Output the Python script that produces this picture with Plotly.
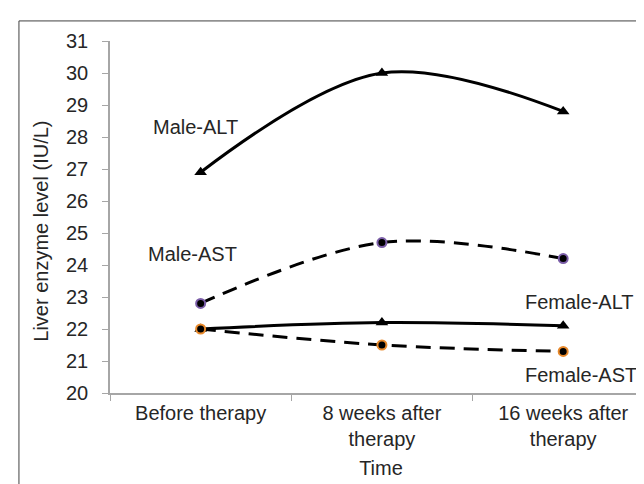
import plotly.graph_objects as go

categories = ["Before therapy", "8 weeks after<br>therapy", "16 weeks after<br>therapy"]
male_alt = [26.9, 30.0, 28.8]
male_ast = [22.8, 24.7, 24.2]
female_alt = [22.0, 22.2, 22.1]
female_ast = [22.0, 21.5, 21.3]
y_ticks = list(range(20, 32))

FONT = "Liberation Sans, Arial, sans-serif"
TXT = "#262626"
AX = "#a6a6a6"
FS = 20

fig = go.Figure()

fig.add_trace(go.Scatter(x=categories, y=male_alt, mode="lines+markers", name="Male-ALT",
                         line=dict(color="black", width=3, shape="spline", smoothing=1),
                         marker=dict(symbol="triangle-up", size=11, color="black")))
fig.add_trace(go.Scatter(x=categories, y=male_ast, mode="lines+markers", name="Male-AST",
                         line=dict(color="black", width=3, shape="spline", smoothing=1, dash="15px,9px"),
                         marker=dict(symbol="circle", size=9, color="black",
                                     line=dict(color="#7b5ea8", width=2))))
fig.add_trace(go.Scatter(x=categories, y=female_alt, mode="lines+markers", name="Female-ALT",
                         line=dict(color="black", width=3, shape="spline", smoothing=1),
                         marker=dict(symbol="triangle-up", size=11, color="black")))
fig.add_trace(go.Scatter(x=categories, y=female_ast, mode="lines+markers", name="Female-AST",
                         line=dict(color="black", width=3, shape="spline", smoothing=1, dash="15px,9px"),
                         marker=dict(symbol="circle", size=9, color="black",
                                     line=dict(color="#e8892b", width=2))))

annots = [
    ("Male-ALT", -0.03, 28.3),
    ("Male-AST", -0.045, 24.35),
    ("Female-ALT", 2.09, 22.85),
    ("Female-AST", 2.1, 20.57),
]
for text, x, y in annots:
    fig.add_annotation(x=x, y=y, text=text, showarrow=False, xref="x", yref="y",
                       font=dict(family=FONT, size=FS, color=TXT))

# y-axis title placed like the original (slightly below plot centre)
fig.add_annotation(x=-0.128, y=0.46, xref="paper", yref="paper", text="Liver enzyme level (IU/L)",
                   textangle=-90, showarrow=False, xanchor="center", yanchor="middle",
                   font=dict(family=FONT, size=FS, color=TXT))

# outer chart border (extends past the cropped image edges)
fig.add_shape(type="rect", xref="paper", yref="paper",
              x0=-0.168, y0=-0.35, x1=1.05, y1=1.057,
              line=dict(color="#404040", width=1), layer="below")

fig.update_layout(
    width=644, height=484,
    margin=dict(l=102, r=0, t=33, b=99),
    paper_bgcolor="white", plot_bgcolor="white",
    showlegend=False,
    font=dict(family=FONT, size=FS, color=TXT),
    xaxis=dict(type="category", range=[-0.5, 2.49], showline=True, linecolor=AX,
               linewidth=1.5, ticks="outside", tickson="boundaries", ticklen=6,
               tickcolor=AX, showgrid=False, zeroline=False, ticklabelstandoff=1,
               title=dict(text="Time", font=dict(size=FS), standoff=12),
               tickfont=dict(size=FS)),
    yaxis=dict(range=[20, 31], tickvals=y_ticks, showline=True, linecolor=AX,
               linewidth=1.5, ticks="outside", ticklen=6, tickcolor=AX,
               showgrid=False, zeroline=False, ticklabelstandoff=10,
               tickfont=dict(size=FS)),
)

fig.write_html("out.html")
